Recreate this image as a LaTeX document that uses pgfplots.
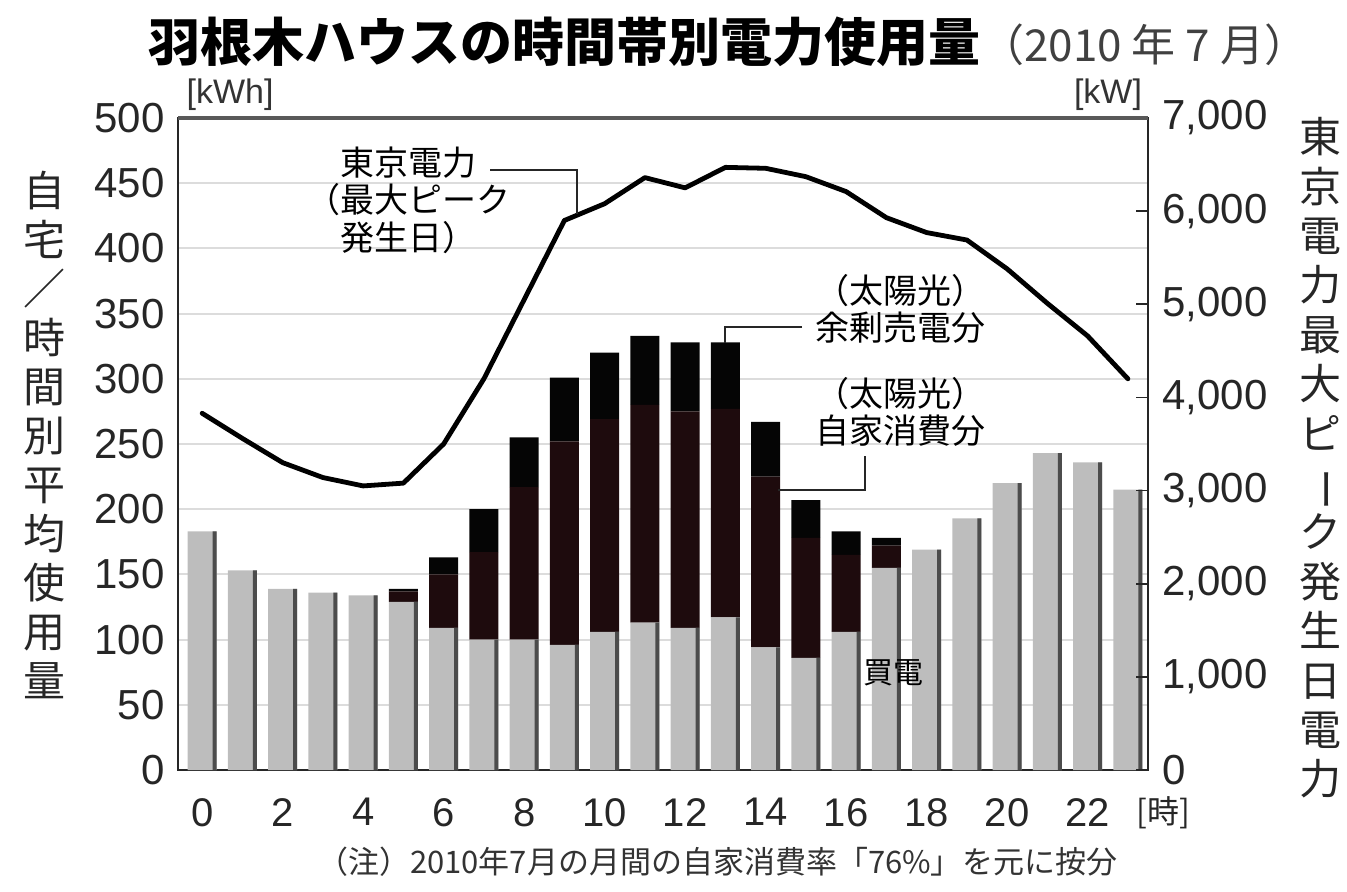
\documentclass[border=0pt]{standalone}
\usepackage{fontspec}
\setmainfont{Liberation Sans}
\newfontfamily\jp{Noto Sans CJK JP}
\usepackage{graphicx}
\usepackage{pgfplots}
\usepackage{pgfplotstable}
\pgfplotsset{compat=1.18}

\definecolor{bargray}{HTML}{BDBDBD}
\definecolor{selfc}{HTML}{1E0B0D}
\definecolor{surc}{HTML}{050505}
\definecolor{gridc}{HTML}{DCDCDC}

\pgfplotstableread{
h buy self sur tepco
0  183   0   0 3830
1  153   0   0 3560
2  139   0   0 3300
3  136   0   0 3140
4  134   0   0 3050
5  129   8   2 3080
6  109  41  13 3500
7  100  67  33 4200
8  100 117  38 5050
9   96 156  49 5900
10 106 163  51 6080
11 113 167  53 6360
12 109 166  53 6250
13 117 160  51 6470
14  94 131  42 6460
15  86  92  29 6370
16 106  59  18 6210
17 155  17   6 5930
18 169   0   0 5770
19 193   0   0 5690
20 220   0   0 5380
21 243   0   0 5010
22 236   0   0 4660
23 215   0   0 4200
}\data

\pgfplotsset{base/.style={scale only axis, width=485pt, height=326pt,
  xmin=-0.6, xmax=23.5, at={(0,0)}, anchor=south west,
  /pgf/number format/assume math mode=true}}

\begin{document}
\begin{tikzpicture}
\path[use as bounding box] (-89pt,-60.5pt) rectangle (584.5pt,385pt);

% bars, left axis
\begin{axis}[base, ybar stacked, bar width=14.5pt,
  ymin=0, ymax=500, ytick={0,50,...,500},
  xtick={0,2,...,22},
  major tick length=0pt,
  ymajorgrids, grid style={gridc, line width=1pt},
  axis line style={black!85, line width=0.9pt},
  yticklabel style={font=\fontsize{21}{21}\selectfont, text=black!85, inner sep=0pt, anchor=east, xshift=-6.5pt},
  xticklabel style={font=\fontsize{20}{20}\selectfont, text=black!85, inner sep=0pt, anchor=north, yshift=-14pt},
  ]
\addplot[fill=bargray, draw=none] table[x=h,y=buy] \data;
\addplot[fill=selfc, draw=none] table[x=h,y=self] \data;
\addplot[fill=surc, draw=none] table[x=h,y=sur] \data;
\end{axis}

% shadow edge of bars
\begin{axis}[base, ybar, bar width=2pt, bar shift=6.25pt, ymin=0, ymax=500, hide axis]
\addplot[fill=black!70, draw=none] table[x=h,y=buy] \data;
\end{axis}

% line, right axis
\begin{axis}[base, ymin=0, ymax=7000, ytick={0,1000,...,7000},
  axis y line*=right, axis x line=none,
  scaled y ticks=false,
  /pgf/number format/1000 sep={,},
  tick align=inside, major tick length=6pt,
  tick style={black!85, line width=0.9pt},
  axis line style={black!85, line width=0.9pt},
  yticklabel style={font=\fontsize{21}{21}\selectfont, text=black!85, inner sep=0pt, anchor=west, xshift=7pt},
  ]
\addplot[black, line width=2.4pt, line join=round, line cap=round] table[x=h,y=tepco] \data;
\end{axis}

\begin{scope}[x=0.5pt, y=-0.5pt, shift={(-89pt,385pt)}]
% top frame line
\draw[black!65, line width=1.8pt] (178,118) -- (1148,118);
% title
\node[anchor=west, inner sep=0pt, font=\jp\fontsize{26}{26}\selectfont] at (148,42)
  {\bfseries 羽根木ハウスの時間帯別電力使用量\mdseries\color{black!75}\fontsize{22}{22}\selectfont（2010 年 7 月）};
% units
\node[inner sep=0pt, font=\fontsize{17}{17}\selectfont, text=black!80] at (230,95) {[kWh]};
\node[inner sep=0pt, font=\fontsize{17}{17}\selectfont, text=black!80] at (1108,95) {[kW]};
\node[inner sep=0pt, font=\jp\fontsize{16}{16}\selectfont, text=black!85] at (1163,813) {[時]};
% vertical axis titles
\node[align=center, inner sep=0pt, font=\jp\fontsize{21}{24.5}\selectfont, text=black!85] at (45,435)
  {自\\宅\\／\\時\\間\\別\\平\\均\\使\\用\\量};
\node[align=center, inner sep=0pt, font=\jp\fontsize{21}{24.7}\selectfont, text=black!85] at (1320,458)
  {東\\京\\電\\力\\最\\大\\ピ\\\rotatebox[origin=c]{-90}{ー}\\ク\\発\\生\\日\\電\\力};
% annotations
\node[align=center, inner sep=0pt, font=\jp\fontsize{17}{18.7}\selectfont] at (408,200)
  {東京電力\\（最大ピーク\\発生日）};
\draw[black!85, line width=1pt] (490,170) -- (577,170) -- (577,214);
\node[align=center, inner sep=0pt, font=\jp\fontsize{17}{18.5}\selectfont] at (900,309)
  {（太陽光）\\余剰売電分};
\draw[black!85, line width=1pt] (802,327) -- (725,327) -- (725,343);
\node[align=center, inner sep=0pt, font=\jp\fontsize{17}{18.5}\selectfont] at (900,412)
  {（太陽光）\\自家消費分};
\draw[black!85, line width=1pt] (865,456) -- (865,490) -- (778,490);
\node[inner sep=0pt, font=\jp\fontsize{15}{15}\selectfont] at (893,673) {買電};
% note
\node[inner sep=0pt, font=\jp\fontsize{15.5}{15.5}\selectfont, text=black!80] at (717,862)
  {（注）2010年7月の月間の自家消費率「76\%」を元に按分};
\end{scope}
\end{tikzpicture}
\end{document}
